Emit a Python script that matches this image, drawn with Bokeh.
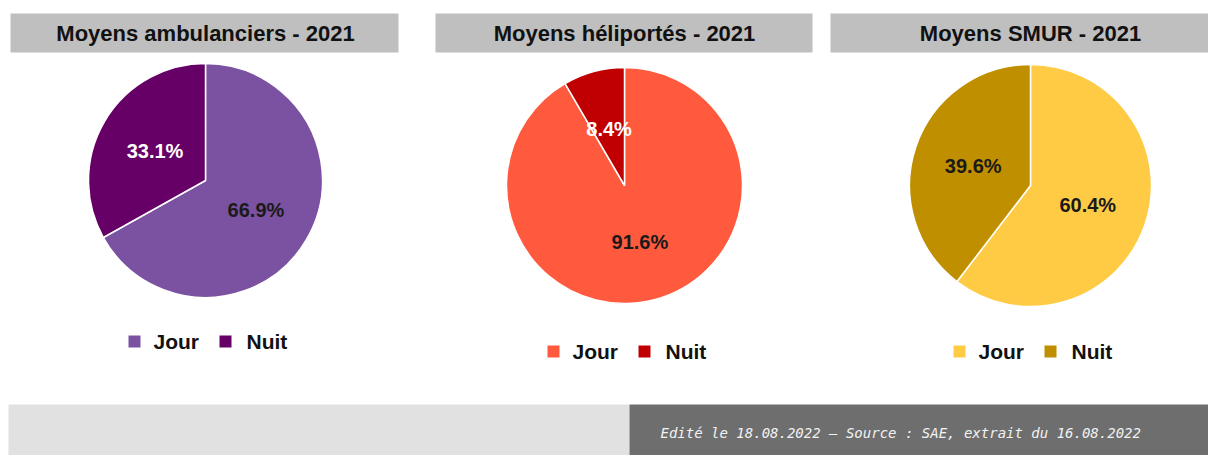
import numpy as np
from bokeh.plotting import figure
from bokeh.models import Range1d, ColumnDataSource
from bokeh.core.properties import value
from bokeh.embed import file_html
from bokeh.resources import INLINE

# ---- data ----
categories = ["Jour", "Nuit"]
titles = ["Moyens ambulanciers - 2021", "Moyens héliportés - 2021", "Moyens SMUR - 2021"]
ambulanciers = [66.9, 33.1]
heliportes = [91.6, 8.4]
smur = [60.4, 39.6]
footer_text = "Edité le 18.08.2022 – Source : SAE, extrait du 16.08.2022"

# ---- style / layout ----
palettes = [["#7b52a1", "#660066"], ["#ff5a3d", "#c00000"], ["#ffcb44", "#bf8f00"]]
label_colors = [["#1a1a1a", "#ffffff"], ["#1a1a1a", "#ffffff"], ["#1a1a1a", "#1a1a1a"]]
centers = [(205, 275), (624, 270), (1030, 270)]
radii = [117, 118, 121]
bars = [(10, 398), (435, 812), (830, 1208)]
legend_y = [114, 104, 104]

W, H = 1208, 455
p = figure(width=W, height=H, output_backend="svg", toolbar_location=None,
           x_range=Range1d(0, W), y_range=Range1d(0, H),
           x_axis_location=None, y_axis_location=None, min_border=0)
p.grid.visible = False
p.outline_line_color = None
p.background_fill_color = "white"
p.border_fill_color = "white"

FONT = value("Liberation Sans")

for i, vals in enumerate([ambulanciers, heliportes, smur]):
    cx, cy = centers[i]
    r = radii[i]
    v = np.array(vals, dtype=float)
    frac = v / v.sum()
    c1 = np.cumsum(frac)
    c0 = c1 - frac
    start = np.pi / 2 - 2 * np.pi * c0
    end = np.pi / 2 - 2 * np.pi * c1
    mid = (start + end) / 2
    src = ColumnDataSource(dict(
        x=[cx] * len(v), y=[cy] * len(v), start=start, end=end,
        color=palettes[i],
        lx=cx + 0.5 * r * np.cos(mid), ly=cy + 0.5 * r * np.sin(mid),
        label=[f"{x:.1f}%" for x in vals], lcolor=label_colors[i],
    ))
    p.wedge(x="x", y="y", radius=r, start_angle="start", end_angle="end",
            direction="clock", fill_color="color", line_color="white",
            line_width=1.5, source=src)
    p.text(x="lx", y="ly", text="label", text_color="lcolor", source=src,
           text_font=FONT, text_font_style="bold", text_font_size="20px",
           text_align="center", text_baseline="middle")

    # title bar
    x0, x1 = bars[i]
    p.quad(left=x0, right=x1, bottom=403, top=442, fill_color="#bfbfbf", line_color=None)
    p.text(x=[cx], y=[422], text=[titles[i]],
           text_font=FONT, text_font_style="bold", text_font_size="22px",
           text_color="#111111", text_align="center", text_baseline="middle")

    # legend
    ly = legend_y[i]
    p.scatter(x=[cx - 71, cx + 20], y=[ly, ly], marker="square", size=12,
              fill_color=palettes[i], line_color=None)
    p.text(x=[cx - 52, cx + 41], y=[ly, ly], text=categories,
           text_font=FONT, text_font_style="bold", text_font_size="21px",
           text_color="#111111", text_align="left", text_baseline="middle")

# footer
p.quad(left=8, right=629, bottom=0, top=51, fill_color="#e1e1e1", line_color=None)
p.quad(left=629, right=W, bottom=0, top=51, fill_color="#6e6e6e", line_color=None)
p.text(x=[660], y=[23], text=[footer_text], text_font=value("DejaVu Sans Mono"),
       text_font_style="italic", text_font_size="14px", text_color="#f2f2f2",
       text_align="left", text_baseline="middle")

open("out.html", "w").write(file_html(p, INLINE))
